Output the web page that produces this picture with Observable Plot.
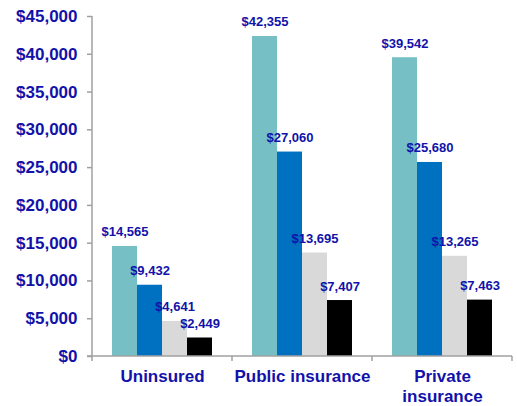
<!DOCTYPE html>
<html><head><meta charset="utf-8">
<script src="https://cdn.jsdelivr.net/npm/d3@7"></script>
<script src="https://cdn.jsdelivr.net/npm/@observablehq/plot@0.6"></script>
<style>body{margin:0;background:#fff}</style>
</head><body><div id="chart"></div>
<script>
const groups = ["Uninsured", "Public insurance", "Private insurance"];
const groupLabels = ["Uninsured", "Public insurance", "Private\ninsurance"];
const series = ["Series 1", "Series 2", "Series 3", "Series 4"];
const seriesColors = ["#76C0C5", "#0070C0", "#D9D9D9", "#000000"];
const uninsuredValues = [14565, 9432, 4641, 2449];
const publicValues = [42355, 27060, 13695, 7407];
const privateValues = [39542, 25680, 13265, 7463];
const yTicks = [0, 5000, 10000, 15000, 20000, 25000, 30000, 35000, 40000, 45000];

const valuesByGroup = [uninsuredValues, publicValues, privateValues];
const rows = groups.flatMap((g, gi) => series.map((s, si) => ({group: g, series: s, value: valuesByGroup[gi][si]})));
const textColor = "#1212AA";
const axisColor = "#A0A0A0";
const money = d => "$" + d3.format(",")(d);

const chart = Plot.plot({
  width: 517, height: 406,
  marginLeft: 91, marginRight: 4, marginTop: 16, marginBottom: 50,
  style: {fontFamily: "'Liberation Sans', Arial, sans-serif", background: "#fff", overflow: "visible"},
  fx: {domain: groups, padding: 0, axis: null, label: null},
  x: {domain: series, paddingInner: 0, paddingOuter: 0.758, axis: null},
  y: {domain: [0, 45000], label: null},
  color: {domain: series, range: seriesColors},
  marks: [
    Plot.barY(rows, {fx: "group", x: "series", y: "value", fill: "series", inset: 0}),
    Plot.text(rows, {fx: "group", x: "series", y: "value", text: d => money(d.value), lineAnchor: "bottom", dy: -10,
      fontSize: 13, fontWeight: "bold", fill: textColor}),
    Plot.text(groups, {fx: d => d, text: (d, i) => groupLabels[i], frameAnchor: "bottom", lineAnchor: "top", dy: 11,
      fontSize: 17, fontWeight: "bold", fill: textColor, lineHeight: 1.2}),
    Plot.axisY({ticks: yTicks, tickFormat: money, tickSize: 5, tickPadding: 10, fontSize: 17, fontWeight: "bold",
      fill: textColor, stroke: axisColor, strokeWidth: 1.5, label: null})
  ]
});
document.getElementById("chart").appendChild(chart);

// axis lines and band-boundary ticks, positioned from Plot's own scales
const fx = chart.scale("fx"), y = chart.scale("y");
const svg = d3.select(chart);
const x0 = fx.apply(groups[0]);
const x1 = fx.apply(groups[groups.length - 1]) + fx.bandwidth;
const y0 = y.apply(0), yTop = y.apply(45000);
const g = svg.append("g").attr("stroke", axisColor).attr("stroke-width", 1.5).attr("fill", "none");
g.append("line").attr("x1", x0).attr("x2", x0).attr("y1", yTop).attr("y2", y0);
g.append("line").attr("x1", x0 - 5).attr("x2", x1).attr("y1", y0).attr("y2", y0);
const bounds = groups.map(d => fx.apply(d)).concat([x1]);
bounds.forEach(b => g.append("line").attr("x1", b).attr("x2", b).attr("y1", y0).attr("y2", y0 + 5));
</script>
</body></html>
